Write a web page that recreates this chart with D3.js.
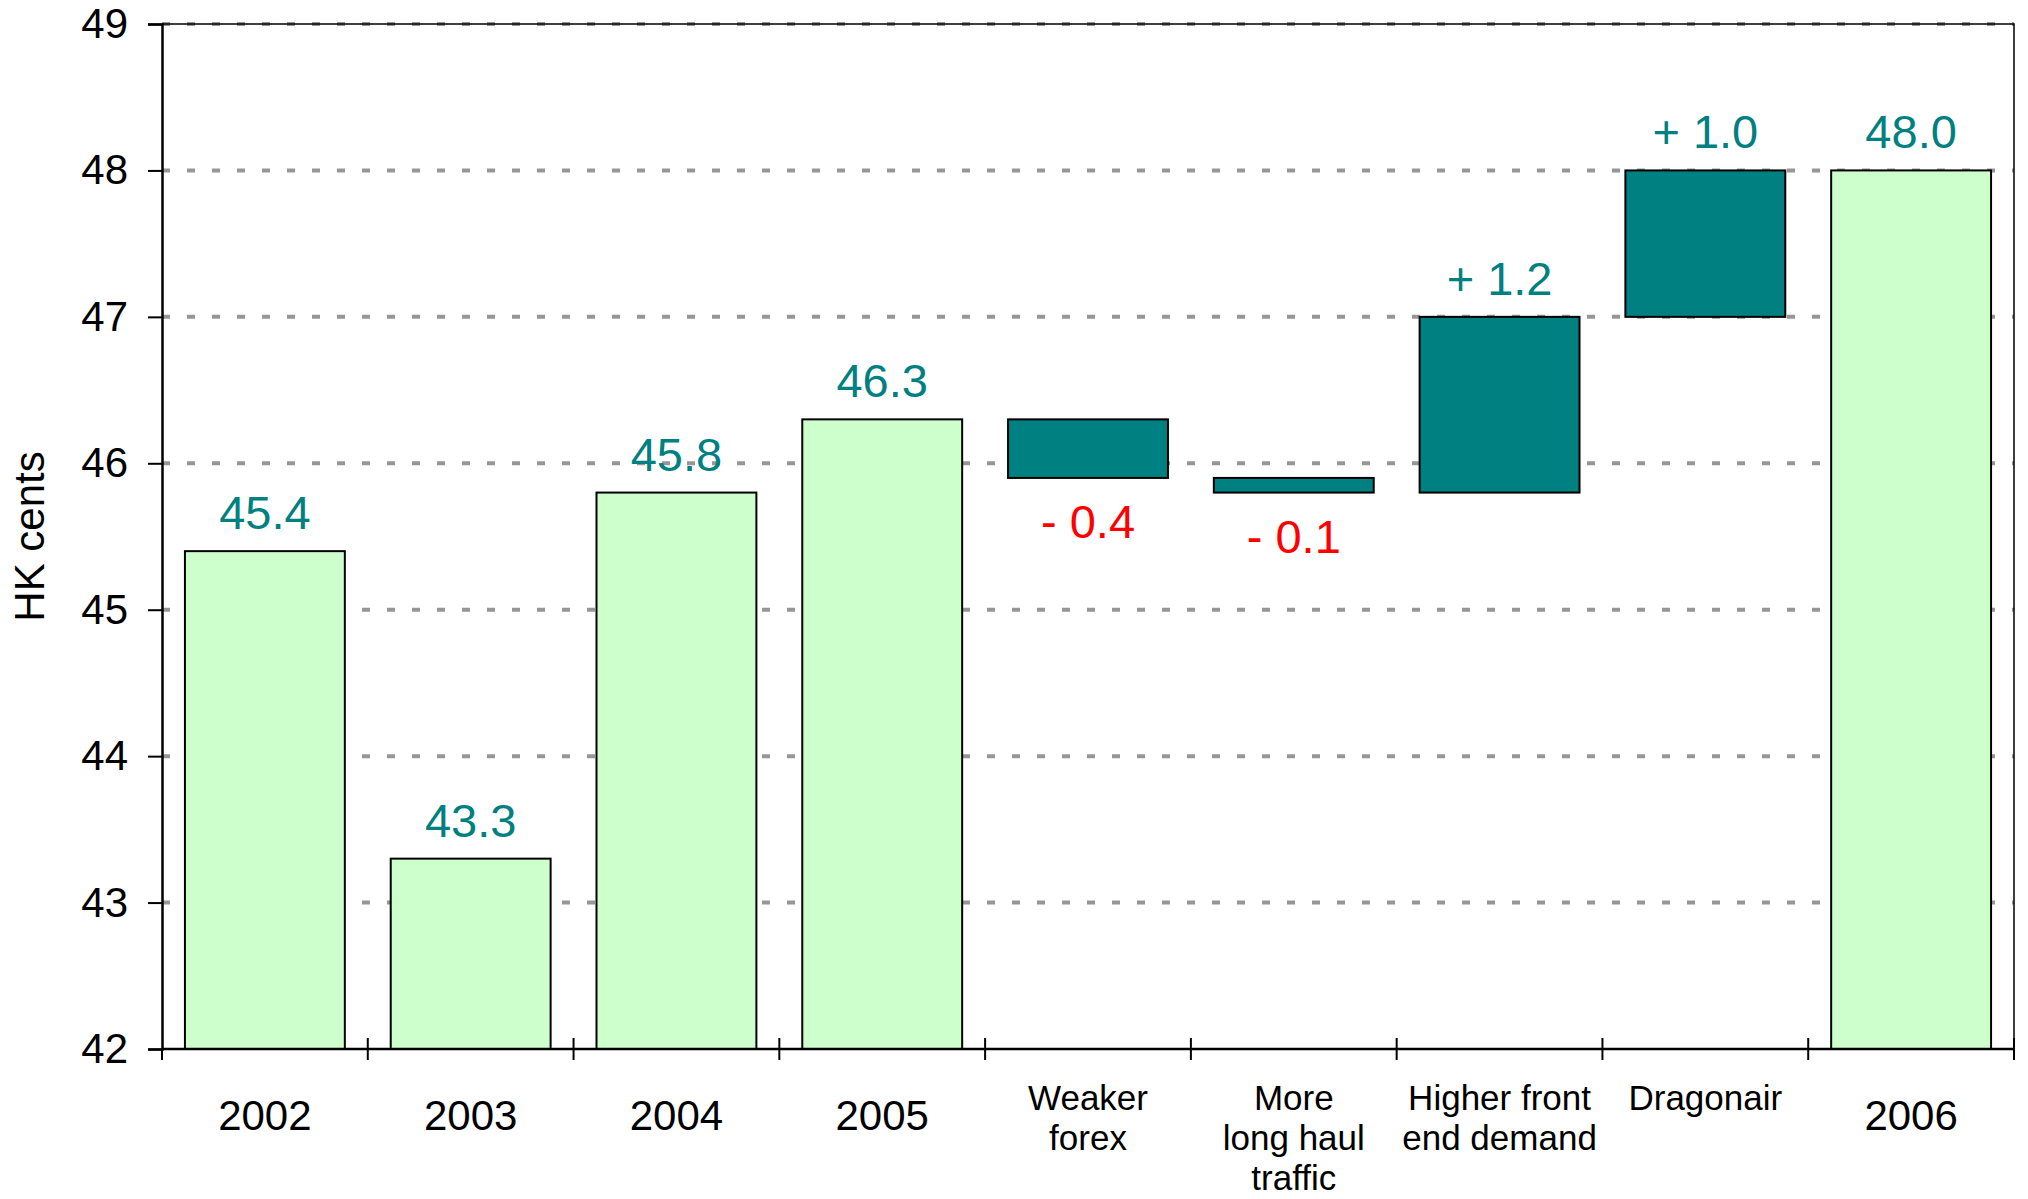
<!DOCTYPE html>
<html>
<head>
<meta charset="utf-8">
<script src="https://cdn.jsdelivr.net/npm/d3@7"></script>
<style>
  html, body { margin: 0; padding: 0; background: #fff; }
  svg { display: block; font-family: "Liberation Sans", Arial, sans-serif; }
</style>
</head>
<body>
<div id="chart"></div>
<script>
// waterfall: yield bridge 2002 -> 2006
const categories = ["2002", "2003", "2004", "2005", "Weaker forex", "More long haul traffic", "Higher front end demand", "Dragonair", "2006"];
const categoryLines = [["2002"], ["2003"], ["2004"], ["2005"], ["Weaker", "forex"], ["More", "long haul", "traffic"], ["Higher front", "end demand"], ["Dragonair"], ["2006"]];
const kinds = ["total", "total", "total", "total", "delta", "delta", "delta", "delta", "total"];
const values = [45.4, 43.3, 45.8, 46.3, -0.4, -0.1, 1.2, 1.0, 48.0];
const yTicks = [42, 43, 44, 45, 46, 47, 48, 49];
const yLabel = "HK cents";

const width = 2028, height = 1199;
const margin = {top: 24, right: 14, bottom: 150, left: 162};

// build bar extents (running total for the delta steps)
let running = 0;
const bars = categories.map((c, i) => {
  let lo, hi;
  if (kinds[i] === "total") {
    lo = 42; hi = values[i]; running = values[i];
  } else {
    const next = running + values[i];
    lo = Math.min(running, next); hi = Math.max(running, next);
    running = next;
  }
  return {cat: c, kind: kinds[i], value: values[i], lo: lo, hi: hi};
});

const svg = d3.select("#chart").append("svg")
  .attr("width", width)
  .attr("height", height);

svg.append("rect").attr("width", width).attr("height", height).attr("fill", "#fff");

const x = d3.scaleBand()
  .domain(categories)
  .range([margin.left, width - margin.right])
  .paddingInner(0.223)
  .paddingOuter(0.1115);

const y = d3.scaleLinear()
  .domain([42, 49])
  .range([height - margin.bottom, margin.top]);

const step = x.step();
const gap = step * 0.223 / 2;

// gridlines
svg.append("g")
  .selectAll("line")
  .data(yTicks.filter(d => d > 42))
  .join("line")
  .attr("x1", margin.left)
  .attr("x2", width - margin.right)
  .attr("y1", d => y(d))
  .attr("y2", d => y(d))
  .attr("stroke", "#969696")
  .attr("stroke-width", 4)
  .attr("stroke-dasharray", "8,17");

// frame top + right
svg.append("path")
  .attr("d", `M${margin.left},${y(49)}H${width - margin.right}V${y(42)}`)
  .attr("fill", "none")
  .attr("stroke", "#000")
  .attr("stroke-width", 1.5);

// bars
svg.append("g")
  .selectAll("rect")
  .data(bars)
  .join("rect")
  .attr("x", d => x(d.cat))
  .attr("width", x.bandwidth())
  .attr("y", d => y(d.hi))
  .attr("height", d => y(d.lo) - y(d.hi))
  .attr("fill", d => d.kind === "total" ? "#ccffcc" : "#008080")
  .attr("stroke", "#000")
  .attr("stroke-width", 2);

// value labels
svg.append("g")
  .selectAll("text")
  .data(bars)
  .join("text")
  .attr("x", d => x(d.cat) + x.bandwidth() / 2)
  .attr("y", d => (d.kind === "delta" && d.value < 0) ? y(d.lo) + 60 : y(d.hi) - 22)
  .attr("text-anchor", "middle")
  .attr("font-size", 47)
  .attr("fill", d => (d.kind === "delta" && d.value < 0) ? "#ff0000" : "#008080")
  .text(d => {
    if (d.kind === "total") return d3.format(".1f")(d.value);
    return (d.value < 0 ? "- " : "+ ") + d3.format(".1f")(Math.abs(d.value));
  });

// y axis
const yAxis = svg.append("g")
  .attr("transform", `translate(${margin.left},0)`)
  .call(d3.axisLeft(y).tickValues(yTicks).tickFormat(d3.format("d")).tickSize(14).tickPadding(20));
yAxis.select(".domain").attr("stroke", "#000").attr("stroke-width", 2.5);
yAxis.selectAll(".tick line").attr("stroke", "#000").attr("stroke-width", 2);
yAxis.selectAll(".tick text")
  .attr("font-size", 42)
  .attr("font-family", "Liberation Sans, Arial, sans-serif")
  .attr("fill", "#000");

// x axis line with crossing ticks at band boundaries
const xAxis = svg.append("g");
xAxis.append("line")
  .attr("x1", margin.left).attr("x2", width - margin.right)
  .attr("y1", y(42)).attr("y2", y(42))
  .attr("stroke", "#000").attr("stroke-width", 2.5);
xAxis.selectAll("line.tick")
  .data(categories)
  .join("line")
  .attr("class", "tick")
  .attr("x1", d => x(d) + x.bandwidth() + gap)
  .attr("x2", d => x(d) + x.bandwidth() + gap)
  .attr("y1", y(42) - 11)
  .attr("y2", y(42) + 11)
  .attr("stroke", "#000").attr("stroke-width", 2);
xAxis.append("line")
  .attr("x1", margin.left).attr("x2", margin.left)
  .attr("y1", y(42)).attr("y2", y(42) + 11)
  .attr("stroke", "#000").attr("stroke-width", 2);

// category labels
const catLabels = svg.append("g")
  .selectAll("text")
  .data(categories)
  .join("text")
  .attr("text-anchor", "middle")
  .attr("fill", "#000")
  .attr("font-size", (d, i) => kinds[i] === "total" ? 42 : 35)
  .attr("y", (d, i) => kinds[i] === "total" ? y(42) + 81 : y(42) + 61);

catLabels.each(function(d, i) {
  const t = d3.select(this);
  const cx = x(d) + x.bandwidth() / 2;
  categoryLines[i].forEach((line, j) => {
    t.append("tspan")
      .attr("x", cx)
      .attr("dy", j === 0 ? 0 : 40)
      .text(line);
  });
});

// y axis title
svg.append("text")
  .attr("transform", `translate(44,${(y(42) + y(49)) / 2}) rotate(-90)`)
  .attr("text-anchor", "middle")
  .attr("font-size", 42)
  .attr("fill", "#000")
  .text(yLabel);
</script>
</body>
</html>
